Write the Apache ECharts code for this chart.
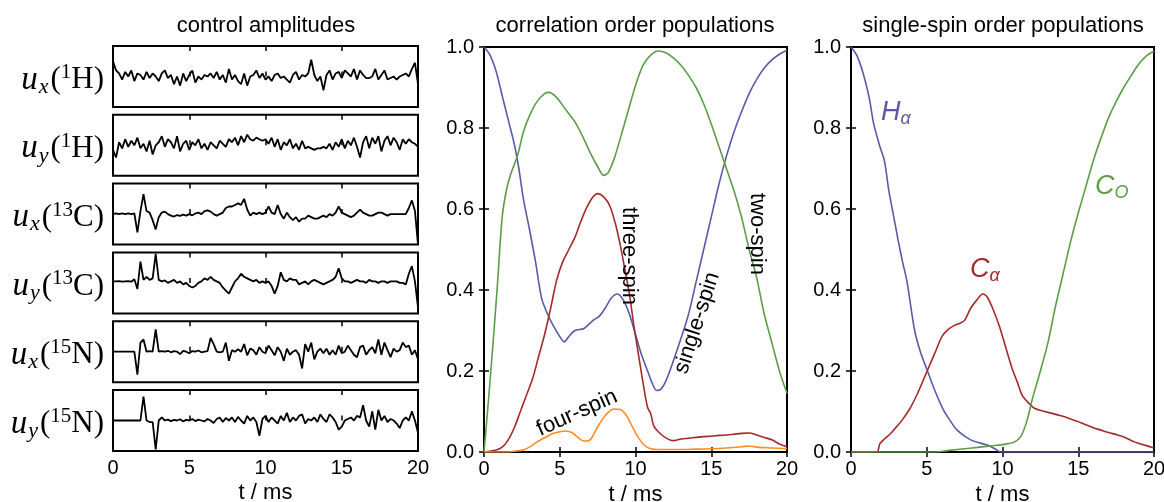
<!DOCTYPE html>
<html>
<head>
<meta charset="utf-8">
<script src="https://cdn.jsdelivr.net/npm/echarts@6/dist/echarts.min.js"></script>
<style>html,body{margin:0;padding:0;background:#fff}#c{width:1164px;height:502px}</style>
</head>
<body>
<div id="c"></div>
<script>
// ---------- data ----------
const tCtrl = [0,0.2,0.4,0.6,0.8,1,1.2,1.4,1.6,1.8,
2,2.2,2.4,2.6,2.8,3,3.2,3.4,3.6,3.8,
4,4.2,4.4,4.6,4.8,5,5.2,5.4,5.6,5.8,
6,6.2,6.4,6.6,6.8,7,7.2,7.4,7.6,7.8,
8,8.2,8.4,8.6,8.8,9,9.2,9.4,9.6,9.8,
10,10.2,10.4,10.6,10.8,11,11.2,11.4,11.6,11.8,
12,12.2,12.4,12.6,12.8,13,13.2,13.4,13.6,13.8,
14,14.2,14.4,14.6,14.8,15,15.2,15.4,15.6,15.8,
16,16.2,16.4,16.6,16.8,17,17.2,17.4,17.6,17.8,
18,18.2,18.4,18.6,18.8,19,19.2,19.4,19.6,19.8,
20];

const uxH = [0.5,0.2,0.1,-0.1,0.15,0.0,0.2,-0.15,0.1,0.05,
-0.1,0.15,-0.05,0.1,0.0,-0.15,0.1,0.2,-0.05,0.05,
-0.25,0.0,-0.3,0.1,-0.15,0.05,0.2,-0.2,0.0,-0.1,
0.05,0.0,0.1,-0.05,0.15,-0.1,0.05,-0.2,0.25,-0.1,
0.05,-0.15,-0.25,0.1,-0.3,0.0,0.05,0.2,-0.05,0.1,
-0.1,0.0,-0.15,0.05,0.1,-0.05,0.0,-0.1,-0.2,0.05,
0.15,-0.1,0.05,0.0,0.1,0.55,0.05,-0.15,0.0,-0.45,
0.05,0.2,-0.1,0.1,0.15,-0.05,0.2,0.1,0.0,0.25,
-0.1,0.2,0.05,-0.05,-0.05,0.0,0.25,-0.1,0.05,0.2,
-0.1,-0.05,0.0,-0.1,0.0,0.05,0.1,0.0,0.25,0.45,
-0.25];

const uyH = [-0.15,-0.4,0.1,-0.1,0.2,-0.05,0.15,0.0,0.25,-0.1,
0.05,-0.2,0.15,-0.3,0.0,0.1,0.3,-0.05,0.2,0.1,
-0.1,0.3,-0.2,0.05,0.15,-0.15,0.1,0.0,0.2,-0.1,
0.05,-0.15,0.1,0.0,-0.1,0.15,0.05,-0.05,0.2,0.1,
0.25,0.0,0.3,0.1,0.35,0.2,0.15,0.25,0.2,0.15,
0.2,0.05,0.25,-0.05,0.2,-0.15,0.1,0.0,0.2,-0.1,
0.05,-0.15,0.15,-0.1,-0.05,-0.1,-0.15,-0.1,-0.1,-0.05,
-0.1,0.05,-0.15,0.1,-0.05,0.2,-0.1,0.15,0.0,0.25,
-0.05,-0.4,0.1,0.3,-0.1,0.25,0.05,0.3,-0.2,0.15,
0.3,0.0,0.25,0.1,-0.15,0.2,0.05,0.2,0.1,0.05,
-0.05];

const uxC = [0.0,0.02,0.0,0.02,0.0,0.02,0.0,0.02,-0.6,0.1,
0.65,0.1,0.05,-0.2,-0.5,-0.1,0.05,0.08,0.0,-0.05,
-0.08,-0.03,-0.06,-0.02,-0.05,0.0,-0.04,0.02,0.05,0.0,
0.1,0.12,0.08,0.0,-0.05,0.0,0.05,0.2,0.25,0.25,
0.3,0.35,0.3,0.5,0.15,-0.05,0.05,0.0,0.05,0.0,
0.05,0.25,0.05,0.0,0.3,0.0,-0.15,0.05,-0.1,-0.2,
-0.1,-0.25,-0.15,-0.15,-0.05,-0.1,-0.15,-0.15,-0.1,-0.05,
-0.1,0.0,-0.05,0.05,0.25,0.05,0.0,-0.05,-0.1,-0.05,
0.05,0.15,0.05,0.0,-0.05,-0.05,0.0,0.05,0.05,0.0,
-0.05,0.0,0.0,0.0,0.0,0.0,0.0,0.2,0.45,0.1,
-1.0];

const uyC = [0.05,0.05,0.06,0.04,0.05,0.06,0.04,0.12,-0.2,0.7,
0.1,0.2,0.1,0.15,0.95,0.1,0.05,0.08,0.0,0.05,
0.1,0.0,0.05,-0.05,0.0,-0.1,-0.15,-0.1,0.0,0.05,
0.15,0.1,0.2,0.1,0.05,0.0,-0.15,-0.25,-0.35,-0.15,
0.05,0.15,0.3,0.2,0.15,0.1,0.05,0.1,0.0,0.05,
0.0,0.05,-0.1,-0.35,-0.1,0.35,0.1,0.05,0.15,0.1,
0.1,-0.05,0.0,0.05,-0.05,0.05,0.1,0.05,0.0,-0.05,
0.0,0.05,0.1,0.2,0.48,0.15,0.05,0.05,0.0,0.05,
0.1,0.05,0.05,0.0,0.1,0.05,0.05,0.0,0.05,0.05,
0.0,0.05,0.05,0.05,0.0,0.0,-0.05,0.3,0.55,0.05,
-0.8];

const uxN = [0,0,0,0,0,0,0,0,-0.75,0.3,
0.4,0.0,0.02,0.0,0.73,0.0,0.02,0.0,0.03,-0.02,
0.02,0.0,-0.08,0.03,0.0,-0.05,0.02,0.0,0.04,-0.02,
0.0,0.02,0.45,0.25,0.0,-0.02,0.0,0.3,-0.3,0.05,
0.0,0.08,0.0,0.25,-0.12,0.1,0.05,-0.1,0.15,0.0,
-0.05,0.2,0.05,-0.12,0.15,0.0,-0.3,0.1,-0.1,0.0,
0.05,-0.1,-0.55,0.25,0.0,0.3,-0.25,0.0,0.1,-0.05,
0.1,-0.1,0.05,-0.1,0.2,-0.05,0.0,0.2,0.05,-0.1,
-0.18,0.15,0.2,-0.1,0.05,0.15,-0.05,0.4,-0.1,0.3,
0.05,-0.18,0.1,0.0,0.05,0.3,0.15,0.2,-0.1,0.05,
-0.25];

const uyN = [0,0,0,0,0,0,0,0,0,0,
0.78,0.0,-0.05,-0.05,-0.95,0.0,0.1,0.0,0.03,-0.02,
0.02,0.0,0.04,-0.03,0.02,0.0,0.05,-0.02,0.03,0.0,
-0.03,0.05,0.0,-0.08,0.05,0.1,-0.05,0.08,0.0,0.1,
-0.05,0.12,0.0,-0.1,0.15,0.0,0.1,-0.05,-0.5,0.05,
0.15,-0.05,0.1,0.0,-0.1,0.15,0.0,0.25,-0.05,0.1,
0.0,0.15,0.2,-0.1,0.05,0.0,0.1,-0.05,0.2,0.05,
-0.05,0.2,0.1,-0.05,-0.3,-0.2,0.0,0.05,0.1,0.0,
0.15,0.1,0.5,0.0,-0.2,0.3,-0.3,0.35,0.0,0.15,
-0.05,0.05,0.0,-0.1,-0.25,0.0,0.1,0.0,0.3,0.0,
-0.4];

// correlation order populations: [t (ms), population]
const singleSpin = [[0,1.0],[0.4,0.98],[0.8,0.94],[1.2,0.88],[1.6,0.82],[2.0,0.76],[2.3,0.70],[2.6,0.625],[3.0,0.55],[3.4,0.47],[3.8,0.38],[4.2,0.34],[4.6,0.31],[5.0,0.285],[5.3,0.272],[5.6,0.285],[6.0,0.30],[6.6,0.305],[7.2,0.325],[7.6,0.335],[8.0,0.355],[8.4,0.38],[8.8,0.39],[9.2,0.375],[9.6,0.34],[10.0,0.29],[10.4,0.24],[10.8,0.2],[11.1,0.17],[11.4,0.152],[11.7,0.156],[12.0,0.175],[12.5,0.225],[13.0,0.28],[13.5,0.34],[14.0,0.42],[14.5,0.50],[15.0,0.58],[15.5,0.66],[16.0,0.73],[16.5,0.79],[17.0,0.84],[17.5,0.885],[18.0,0.92],[18.5,0.948],[19.0,0.968],[19.5,0.982],[20.0,0.992]];
const twoSpin = [[0,0],[0.3,0.13],[0.6,0.27],[0.9,0.42],[1.2,0.58],[1.5,0.65],[1.8,0.69],[2.2,0.73],[2.6,0.79],[3.0,0.83],[3.5,0.865],[4.0,0.885],[4.3,0.888],[4.8,0.875],[5.4,0.845],[6.0,0.815],[6.5,0.78],[7.0,0.74],[7.5,0.705],[7.9,0.683],[8.2,0.69],[8.6,0.725],[9.0,0.775],[9.5,0.84],[10.0,0.905],[10.5,0.955],[11.0,0.98],[11.5,0.99],[12.0,0.986],[12.5,0.973],[13.0,0.955],[13.5,0.93],[14.0,0.9],[14.5,0.86],[15.0,0.81],[15.5,0.755],[16.0,0.70],[16.5,0.645],[17.0,0.58],[17.5,0.50],[18.0,0.43],[18.5,0.34],[19.0,0.27],[19.5,0.2],[20.0,0.145]];
const threeSpin = [[0,0],[0.8,0.005],[1.2,0.012],[1.6,0.03],[2.0,0.06],[2.4,0.1],[2.8,0.14],[3.2,0.18],[3.6,0.235],[4.0,0.29],[4.4,0.355],[4.8,0.425],[5.2,0.47],[5.6,0.5],[6.0,0.53],[6.4,0.57],[6.8,0.605],[7.2,0.63],[7.5,0.638],[7.9,0.63],[8.3,0.608],[8.7,0.56],[9.0,0.51],[9.3,0.45],[9.6,0.39],[9.9,0.31],[10.2,0.24],[10.5,0.17],[10.8,0.11],[11.0,0.095],[11.2,0.065],[11.5,0.05],[12.0,0.035],[12.5,0.028],[13.0,0.032],[13.5,0.034],[14.0,0.036],[14.5,0.038],[15.0,0.039],[15.5,0.041],[16.0,0.042],[16.5,0.044],[17.0,0.046],[17.5,0.047],[18.0,0.042],[18.5,0.036],[19.0,0.03],[19.5,0.02],[20.0,0.013]];
const fourSpin = [[0,0],[1.5,0.0],[2.0,0.002],[2.5,0.004],[3.0,0.012],[3.5,0.025],[4.0,0.035],[4.5,0.045],[5.0,0.05],[5.4,0.052],[5.8,0.048],[6.2,0.036],[6.6,0.027],[7.0,0.03],[7.4,0.055],[7.8,0.08],[8.2,0.098],[8.6,0.106],[9.0,0.105],[9.4,0.09],[9.8,0.062],[10.2,0.035],[10.6,0.016],[11.0,0.008],[11.5,0.006],[12.5,0.006],[14.0,0.007],[15.0,0.008],[16.0,0.01],[17.0,0.013],[17.5,0.015],[18.0,0.012],[19.0,0.01],[20.0,0.008]];

// single-spin order populations
const hAlpha = [[0,1.0],[0.4,0.978],[0.8,0.935],[1.2,0.875],[1.5,0.81],[1.9,0.755],[2.2,0.72],[2.5,0.645],[2.8,0.585],[3.1,0.525],[3.4,0.47],[3.7,0.42],[4.2,0.30],[4.6,0.245],[5.0,0.205],[5.5,0.155],[6.1,0.104],[6.5,0.08],[7.0,0.054],[7.9,0.03],[9.0,0.017],[9.5,0.008],[9.9,0.0],[20,0]];
const cAlpha = [[0,0],[1.7,0],[1.9,0.02],[2.2,0.032],[2.6,0.045],[3.0,0.062],[3.4,0.08],[3.9,0.108],[4.4,0.145],[4.8,0.18],[5.2,0.215],[5.6,0.25],[6.0,0.285],[6.4,0.302],[6.8,0.312],[7.2,0.318],[7.5,0.325],[7.9,0.355],[8.3,0.375],[8.7,0.39],[9.0,0.382],[9.4,0.35],[9.8,0.31],[10.2,0.26],[10.6,0.21],[11.0,0.17],[11.3,0.14],[11.7,0.122],[12.1,0.108],[12.6,0.102],[13.2,0.096],[13.8,0.09],[14.4,0.083],[15.0,0.075],[15.5,0.067],[16.0,0.06],[16.5,0.054],[17.0,0.048],[17.6,0.042],[18.2,0.034],[18.7,0.025],[19.3,0.018],[20.0,0.01]];
const cO = [[0,0],[5.5,0],[6.5,0.004],[7.5,0.008],[8.5,0.012],[9.5,0.016],[10.3,0.02],[10.8,0.025],[11.2,0.038],[11.6,0.075],[12.0,0.135],[12.5,0.2],[13.0,0.27],[13.5,0.36],[14.0,0.44],[14.5,0.52],[15.0,0.59],[15.5,0.655],[16.0,0.72],[16.5,0.775],[17.0,0.825],[17.5,0.865],[18.0,0.9],[18.5,0.93],[19.0,0.958],[19.5,0.978],[20.0,0.99]];

const xTicks = [0, 5, 10, 15, 20];
const yTicks = [0.0, 0.2, 0.4, 0.6, 0.8, 1.0];

// ---------- chart ----------
const BLUE = '#5a5aa8', GREEN = '#5c9e48', RED = '#a52a2a', ORANGE = '#ff8c1e';
const SANS = 'Liberation Sans, Arial, sans-serif';
const SERIF = 'Liberation Serif, serif';
const ctrl = [uxH, uyH, uxC, uyC, uxN, uyN];

const grids = [], xAxes = [], yAxes = [], series = [];
const tickStyle = {inside: true, length: 5, lineStyle: {color: '#000', width: 1.5}};
const labelStyle = {color: '#000', fontSize: 20, fontFamily: SANS};

function addX(gi, showLabel, top) {
  xAxes.push({
    gridIndex: gi, type: 'value', min: xTicks[0], max: xTicks[xTicks.length - 1],
    interval: xTicks[1] - xTicks[0], position: top ? 'top' : 'bottom',
    axisLine: {show: false}, axisTick: tickStyle, splitLine: {show: false},
    axisLabel: Object.assign({show: showLabel, margin: 7}, labelStyle),
    name: showLabel ? 't / ms' : '', nameLocation: 'middle', nameGap: 31,
    nameTextStyle: {color: '#000', fontSize: 22, fontFamily: SANS}
  });
  return xAxes.length - 1;
}
function addY(gi, opts) {
  yAxes.push(Object.assign({
    gridIndex: gi, type: 'value', axisLine: {show: false}, splitLine: {show: false}
  }, opts));
  return yAxes.length - 1;
}
function mkGrid(left, top, width, height) {
  return {left: left, top: top, width: width, height: height, show: true, containLabel: false,
    outerBoundsMode: 'none', borderColor: '#000', borderWidth: 2, backgroundColor: 'transparent'};
}

// control amplitude panels
for (let i = 0; i < 6; i++) {
  grids.push(mkGrid(113, 46 + i * 68.8, 305, 61));
  const xi = addX(i, i === 5, false);
  addX(i, false, true);
  const yi = addY(i, {min: -1, max: 1, axisTick: {show: false}, axisLabel: {show: false}});
  series.push({type: 'line', xAxisIndex: xi, yAxisIndex: yi, showSymbol: false,
    lineStyle: {color: '#000', width: 1.8}, data: tCtrl.map((t, k) => [t, ctrl[i][k]]), z: 3});
}

// population panels
const popPanels = [
  {left: 484, sets: [[singleSpin, BLUE], [twoSpin, GREEN], [threeSpin, RED], [fourSpin, ORANGE]]},
  {left: 851, sets: [[hAlpha, BLUE], [cAlpha, RED], [cO, GREEN]]}
];
popPanels.forEach((p, j) => {
  const gi = 6 + j;
  grids.push(mkGrid(p.left, 47, 303, 405));
  const xi = addX(gi, true, false);
  addX(gi, false, true);
  const yOpts = {min: yTicks[0], max: yTicks[yTicks.length - 1], interval: yTicks[1] - yTicks[0], axisTick: tickStyle};
  const yi = addY(gi, Object.assign({position: 'left',
    axisLabel: Object.assign({margin: 10, formatter: v => v.toFixed(1)}, labelStyle)}, yOpts));
  addY(gi, Object.assign({position: 'right', axisLabel: {show: false}}, yOpts));
  p.sets.forEach(([d, c]) => {
    series.push({type: 'line', xAxisIndex: xi, yAxisIndex: yi, showSymbol: false, smooth: 0.3,
      lineStyle: {color: c, width: 1.6}, data: d, z: 3});
  });
});

// texts
function txt(x, y, text, extra) {
  return Object.assign({type: 'text', x: x, y: y, z: 10,
    style: Object.assign({text: text, fill: '#000', font: '22px ' + SANS, align: 'center', verticalAlign: 'middle'}, extra || {})});
}
const richLbl = {
  u: {fontFamily: SERIF, fontStyle: 'italic', fontSize: 33, lineHeight: 36, verticalAlign: 'middle'},
  s: {fontFamily: SERIF, fontStyle: 'italic', fontSize: 22, lineHeight: 36, verticalAlign: 'bottom', padding: [0, 2, 0, 1]},
  p: {fontFamily: SERIF, fontSize: 31, lineHeight: 36, verticalAlign: 'middle'},
  e: {fontFamily: SERIF, fontSize: 21, lineHeight: 36, verticalAlign: 'top'}
};
const ctrlLabels = [['x','1','H'],['y','1','H'],['x','13','C'],['y','13','C'],['x','15','N'],['y','15','N']];
const graphics = [
  txt(266, 26, 'control amplitudes'),
  txt(635, 26, 'correlation order populations'),
  txt(1003, 26, 'single-spin order populations'),
  Object.assign(txt(629, 256, 'three-spin'), {rotation: -Math.PI / 2}),
  Object.assign(txt(757, 234, 'two-spin'), {rotation: -Math.PI / 2}),
  Object.assign(txt(697, 323, 'single-spin'), {rotation: 72 * Math.PI / 180}),
  Object.assign(txt(577, 413, 'four-spin'), {rotation: 24 * Math.PI / 180})
];
ctrlLabels.forEach((l, i) => {
  graphics.push({type: 'text', x: 104, y: 46 + i * 68.8 + 34, z: 10,
    style: {text: '{u|u}{s|' + l[0] + '}{p|(}{e|' + l[1] + '}{p|' + l[2] + ')}', rich: richLbl,
      fill: '#000', align: 'right', verticalAlign: 'middle'}});
});
function spinLbl(x, y, main, sub, color) {
  return {type: 'text', x: x, y: y, z: 10,
    style: {text: '{m|' + main + '}{s|' + sub + '}', align: 'left', verticalAlign: 'middle', fill: color,
      rich: {m: {fontFamily: SANS, fontStyle: 'italic', fontSize: 27, lineHeight: 32, fill: color, verticalAlign: 'middle'},
             s: {fontFamily: SANS, fontStyle: 'italic', fontSize: 18, lineHeight: 32, fill: color, verticalAlign: 'bottom'}}}};
}
graphics.push(spinLbl(881, 112, 'H', 'α', BLUE));
graphics.push(spinLbl(1095, 186, 'C', 'O', GREEN));
graphics.push(spinLbl(970, 269, 'C', 'α', RED));

const chart = echarts.init(document.getElementById('c'), null, {renderer: 'canvas'});
chart.setOption({
  animation: false,
  backgroundColor: '#fff',
  grid: grids, xAxis: xAxes, yAxis: yAxes, series: series, graphic: graphics
});
</script>
</body>
</html>
